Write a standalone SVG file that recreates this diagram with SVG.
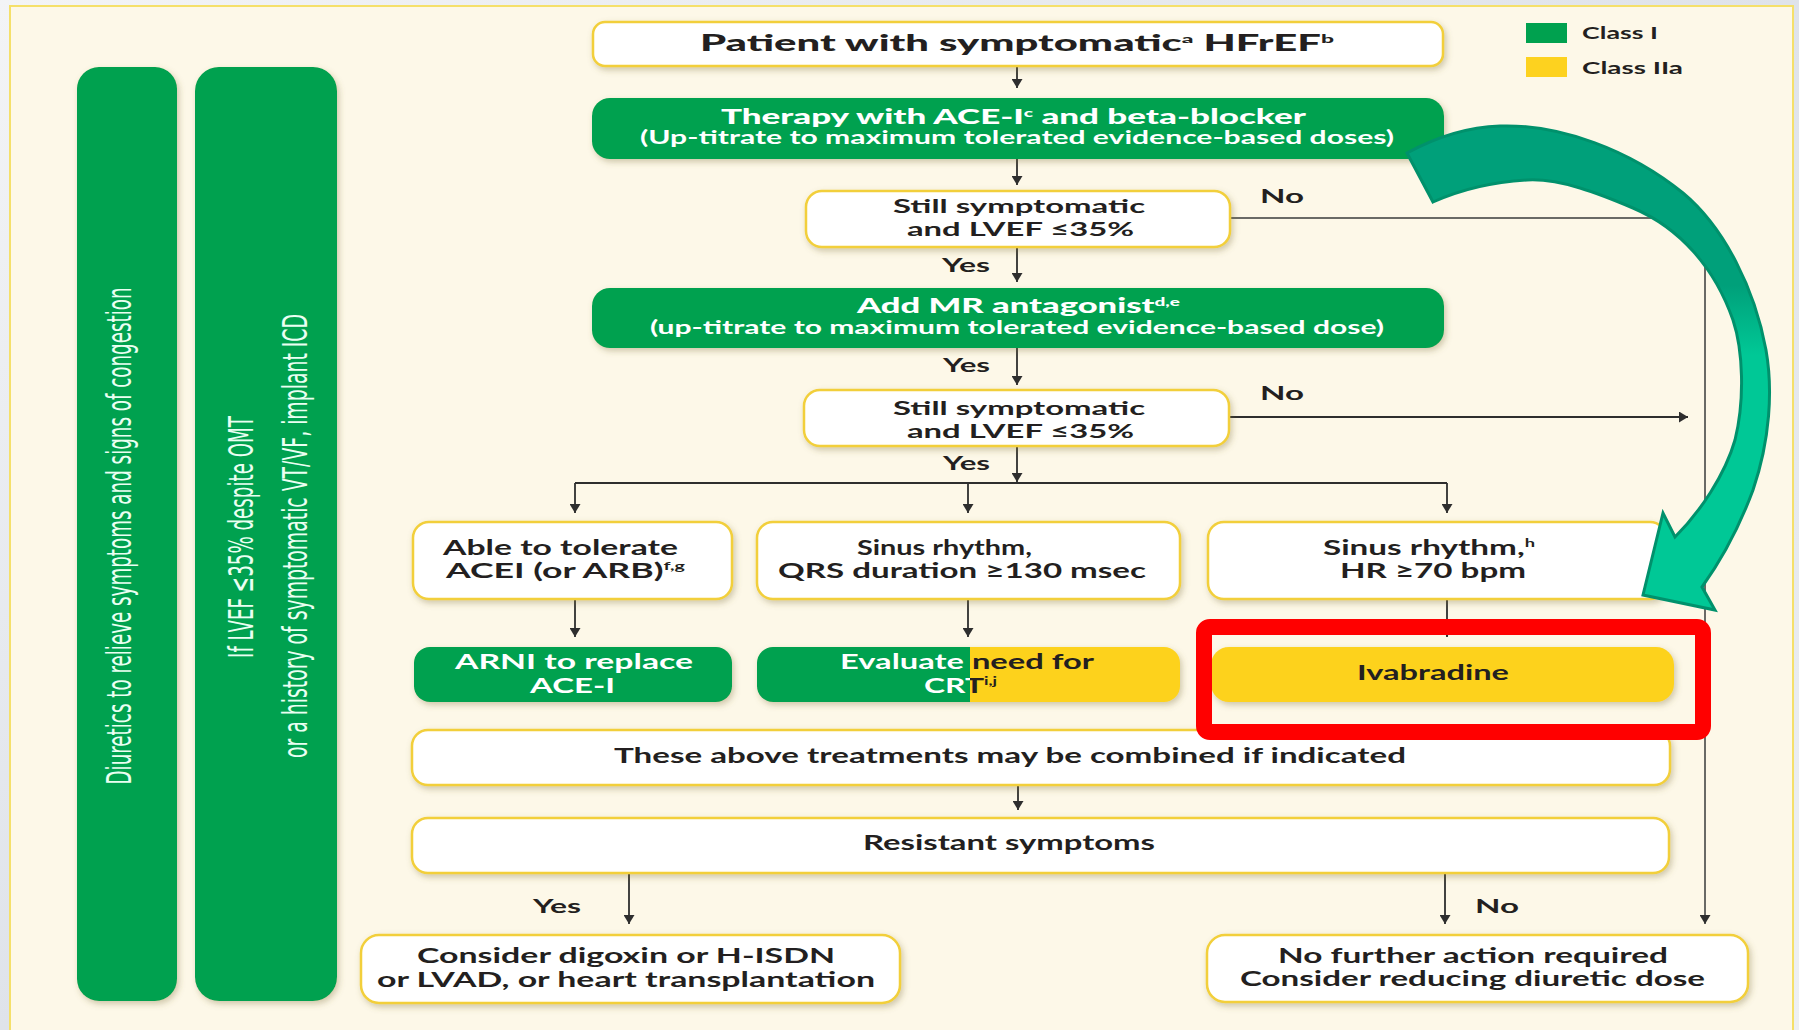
<svg xmlns="http://www.w3.org/2000/svg" width="1799" height="1030" viewBox="0 0 1799 1030">
<defs>
<style>
.t{font-family:Lato,"Liberation Sans",sans-serif;font-weight:700;fill:#231f20;}
.tb{font-family:Lato,"Liberation Sans",sans-serif;font-weight:900;fill:#231f20;}
.w{fill:#ffffff;}
.wb{fill:#ffffff;stroke:#f2cf3a;stroke-width:2.5;}
.g{fill:#00a14f;}
.y{fill:#fdd21f;}
.bar{fill:#00a14f;}
.bt{font-family:"Liberation Sans Narrow","DejaVu Sans Condensed",sans-serif;fill:#eafff2;font-size:34px;}
.ln{stroke:#2e2e2e;stroke-width:1.8;fill:none;}
.lg{stroke:#6a6a66;stroke-width:2;fill:none;}
</style>
<marker id="ah" viewBox="0 0 9 11" markerWidth="9" markerHeight="11" refX="9" refY="5.5" orient="auto" markerUnits="userSpaceOnUse"><path d="M0,0 L9,5.5 L0,11 z" fill="#2e2e2e"/></marker>
<filter id="sh" x="-10%" y="-30%" width="120%" height="160%"><feDropShadow dx="2" dy="3" stdDeviation="3" flood-color="#7a6a30" flood-opacity="0.35"/></filter>
<linearGradient id="bg" x1="0" y1="0" x2="1" y2="1"><stop offset="0" stop-color="#f3f4f6"/><stop offset="0.5" stop-color="#dfe3ea"/><stop offset="1" stop-color="#eef0f3"/></linearGradient>
<linearGradient id="crtfill" gradientUnits="userSpaceOnUse" x1="757" y1="0" x2="1180" y2="0"><stop offset="0.5028" stop-color="#00a14f"/><stop offset="0.5028" stop-color="#fdd21f"/></linearGradient>
<linearGradient id="crttext" gradientUnits="userSpaceOnUse" x1="757" y1="0" x2="1180" y2="0"><stop offset="0.5028" stop-color="#ffffff"/><stop offset="0.5028" stop-color="#231f20"/></linearGradient>
<linearGradient id="teal" gradientUnits="userSpaceOnUse" x1="0" y1="150" x2="0" y2="560"><stop offset="0.33" stop-color="#00a07a"/><stop offset="0.5" stop-color="#00c896"/><stop offset="1" stop-color="#00c896"/></linearGradient>
</defs>
<rect x="0" y="0" width="1799" height="1030" fill="url(#bg)"/>
<rect x="10" y="6" width="1783" height="1030" fill="#fdf8e8" stroke="#f5e06a" stroke-width="2"/>

<g id="legend">
<rect x="1526" y="23" width="41" height="20" class="g"/>
<rect x="1526" y="57" width="41" height="20" class="y"/>
<text class="t" x="1582" y="39" font-size="17" textLength="76" lengthAdjust="spacingAndGlyphs">Class I</text>
<text class="t" x="1582" y="74" font-size="17" textLength="101" lengthAdjust="spacingAndGlyphs">Class IIa</text>
</g>

<g id="bar-diuretics">
<rect x="77" y="67" width="100" height="934" rx="22" class="bar" filter="url(#sh)"/>
<text class="bt" transform="translate(131,536) rotate(-90)" text-anchor="middle" textLength="497" lengthAdjust="spacingAndGlyphs">Diuretics to relieve symptoms and signs of congestion</text>
</g>
<g id="bar-icd">
<rect x="195" y="67" width="142" height="934" rx="24" class="bar" filter="url(#sh)"/>
<text class="bt" transform="translate(253,537) rotate(-90)" text-anchor="middle" textLength="242" lengthAdjust="spacingAndGlyphs">If LVEF ≤35% despite OMT</text>
<text class="bt" transform="translate(307,536) rotate(-90)" text-anchor="middle" textLength="444" lengthAdjust="spacingAndGlyphs">or a history of symptomatic VT/VF, implant ICD</text>
</g>

<g id="connectors">
<path class="ln" d="M1017,66 V88" marker-end="url(#ah)"/>
<path class="ln" d="M1017,159 V185" marker-end="url(#ah)"/>
<path class="ln" d="M1017,247 V282" marker-end="url(#ah)"/>
<path class="ln" d="M1017,348 V385" marker-end="url(#ah)"/>
<path class="ln" d="M1017,446 V482" marker-end="url(#ah)"/>
<path class="ln" d="M575,483 H1447"/>
<path class="ln" d="M575,483 V513" marker-end="url(#ah)"/>
<path class="ln" d="M968,483 V513" marker-end="url(#ah)"/>
<path class="ln" d="M1447,483 V513" marker-end="url(#ah)"/>
<path class="ln" d="M575,599 V637" marker-end="url(#ah)"/>
<path class="ln" d="M968,599 V637" marker-end="url(#ah)"/>
<path class="ln" d="M1447,599 V637" marker-end="url(#ah)"/>
<path class="ln" d="M1018,785 V810" marker-end="url(#ah)"/>
<path class="ln" d="M629,873 V924" marker-end="url(#ah)"/>
<path class="ln" d="M1445,873 V924" marker-end="url(#ah)"/>
<path class="lg" d="M1230,218 H1705"/>
<path class="lg" d="M1705,217 V924" marker-end="url(#ah)"/>
<path class="ln" d="M1229,417 H1688" marker-end="url(#ah)"/>
<text class="t" x="1260" y="203" font-size="19" textLength="44" lengthAdjust="spacingAndGlyphs">No</text>
<text class="t" x="942" y="272" font-size="19" textLength="48" lengthAdjust="spacingAndGlyphs">Yes</text>
<text class="t" x="943" y="372" font-size="19" textLength="47" lengthAdjust="spacingAndGlyphs">Yes</text>
<text class="t" x="1260" y="400" font-size="19" textLength="44" lengthAdjust="spacingAndGlyphs">No</text>
<text class="t" x="943" y="470" font-size="19" textLength="47" lengthAdjust="spacingAndGlyphs">Yes</text>
<text class="t" x="533" y="913" font-size="19" textLength="48" lengthAdjust="spacingAndGlyphs">Yes</text>
<text class="t" x="1475" y="913" font-size="19" textLength="44" lengthAdjust="spacingAndGlyphs">No</text>
</g>

<g id="n-patient">
<rect x="593" y="22" width="850" height="44" rx="12" class="wb" filter="url(#sh)"/>
<text class="tb" x="700" y="51" font-size="22" textLength="634" lengthAdjust="spacingAndGlyphs">Patient with symptomatic<tspan font-size="12" dy="-8">a</tspan><tspan dy="8"> HFrEF</tspan><tspan font-size="12" dy="-8">b</tspan></text>
</g>
<g id="n-therapy">
<rect x="592" y="98" width="852" height="61" rx="18" class="g" filter="url(#sh)"/>
<text class="tb" x="721" y="124" font-size="20" style="fill:#fff" textLength="585" lengthAdjust="spacingAndGlyphs">Therapy with ACE-I<tspan font-size="11" dy="-7">c</tspan><tspan dy="7"> and beta-blocker</tspan></text>
<text class="t" x="640" y="144" font-size="18" style="fill:#fff" textLength="754" lengthAdjust="spacingAndGlyphs">(Up-titrate to maximum tolerated evidence-based doses)</text>
</g>
<g id="n-still1">
<rect x="806" y="191" width="424" height="56" rx="16" class="wb" filter="url(#sh)"/>
<text class="t" x="893" y="213" font-size="19" textLength="252" lengthAdjust="spacingAndGlyphs">Still symptomatic</text>
<text class="t" x="907" y="236" font-size="19" textLength="227" lengthAdjust="spacingAndGlyphs">and LVEF ≤35%</text>
</g>
<g id="n-mra">
<rect x="592" y="288" width="852" height="60" rx="18" class="g" filter="url(#sh)"/>
<text class="tb" x="857" y="313" font-size="20" style="fill:#fff" textLength="323" lengthAdjust="spacingAndGlyphs">Add MR antagonist<tspan font-size="11" dy="-7">d,e</tspan></text>
<text class="t" x="650" y="334" font-size="18" style="fill:#fff" textLength="734" lengthAdjust="spacingAndGlyphs">(up-titrate to maximum tolerated evidence-based dose)</text>
</g>
<g id="n-still2">
<rect x="804" y="390" width="425" height="56" rx="16" class="wb" filter="url(#sh)"/>
<text class="t" x="893" y="415" font-size="19" textLength="252" lengthAdjust="spacingAndGlyphs">Still symptomatic</text>
<text class="t" x="907" y="438" font-size="19" textLength="227" lengthAdjust="spacingAndGlyphs">and LVEF ≤35%</text>
</g>
<g id="n-acei">
<rect x="413" y="522" width="319" height="77" rx="16" class="wb" filter="url(#sh)"/>
<text class="t" x="443" y="555" font-size="20" textLength="235" lengthAdjust="spacingAndGlyphs">Able to tolerate</text>
<text class="t" x="446" y="578" font-size="20" textLength="239" lengthAdjust="spacingAndGlyphs">ACEI (or ARB)<tspan font-size="11" dy="-8">f,g</tspan></text>
</g>
<g id="n-qrs">
<rect x="757" y="522" width="423" height="77" rx="16" class="wb" filter="url(#sh)"/>
<text class="t" x="857" y="555" font-size="20" textLength="175" lengthAdjust="spacingAndGlyphs">Sinus rhythm,</text>
<text class="t" x="778" y="578" font-size="20" textLength="368" lengthAdjust="spacingAndGlyphs">QRS duration ≥130 msec</text>
</g>
<g id="n-hr">
<rect x="1208" y="522" width="458" height="77" rx="16" class="wb" filter="url(#sh)"/>
<text class="t" x="1323" y="555" font-size="20" textLength="212" lengthAdjust="spacingAndGlyphs">Sinus rhythm,<tspan font-size="11" dy="-8">h</tspan></text>
<text class="t" x="1340" y="578" font-size="20" textLength="186" lengthAdjust="spacingAndGlyphs">HR ≥70 bpm</text>
</g>
<g id="n-arni">
<rect x="414" y="647" width="318" height="55" rx="16" class="g" filter="url(#sh)"/>
<text class="t" x="455" y="669" font-size="20" style="fill:#fff" textLength="238" lengthAdjust="spacingAndGlyphs">ARNI to replace</text>
<text class="t" x="530" y="693" font-size="20" style="fill:#fff" textLength="85" lengthAdjust="spacingAndGlyphs">ACE-I</text>
</g>
<g id="n-crt">
<rect x="757" y="647" width="423" height="55" rx="16" fill="url(#crtfill)" filter="url(#sh)"/>
<text class="t" x="840" y="669" font-size="20" style="fill:url(#crttext)" textLength="254" lengthAdjust="spacingAndGlyphs">Evaluate need for</text>
<text class="t" x="924" y="693" font-size="20" style="fill:url(#crttext)" textLength="73" lengthAdjust="spacingAndGlyphs">CRT<tspan font-size="11" dy="-8">i,j</tspan></text>
</g>
<g id="n-ivabradine">
<rect x="1211" y="647" width="463" height="55" rx="18" class="y" filter="url(#sh)"/>
<text class="t" x="1357" y="680" font-size="21" textLength="152" lengthAdjust="spacingAndGlyphs">Ivabradine</text>
</g>
<g id="n-combined">
<rect x="412" y="730" width="1258" height="55" rx="16" class="wb" filter="url(#sh)"/>
<text class="t" x="614" y="763" font-size="20" textLength="792" lengthAdjust="spacingAndGlyphs">These above treatments may be combined if indicated</text>
</g>
<g id="n-resistant">
<rect x="412" y="818" width="1257" height="55" rx="16" class="wb" filter="url(#sh)"/>
<text class="t" x="863" y="850" font-size="20" textLength="292" lengthAdjust="spacingAndGlyphs">Resistant symptoms</text>
</g>
<g id="n-digoxin">
<rect x="361" y="935" width="539" height="68" rx="18" class="wb" filter="url(#sh)"/>
<text class="t" x="417" y="963" font-size="21" textLength="418" lengthAdjust="spacingAndGlyphs">Consider digoxin or H-ISDN</text>
<text class="t" x="377" y="987" font-size="21" textLength="498" lengthAdjust="spacingAndGlyphs">or LVAD, or heart transplantation</text>
</g>
<g id="n-nofurther">
<rect x="1207" y="935" width="541" height="67" rx="18" class="wb" filter="url(#sh)"/>
<text class="t" x="1278" y="963" font-size="21" textLength="390" lengthAdjust="spacingAndGlyphs">No further action required</text>
<text class="t" x="1240" y="986" font-size="21" textLength="465" lengthAdjust="spacingAndGlyphs">Consider reducing diuretic dose</text>
</g>

<g id="highlight-frame">
<rect x="1204" y="627" width="499" height="105" rx="6" fill="none" stroke="#ff0000" stroke-width="16"/>
</g>
<g id="curved-arrow">
<path d="M1407,153 C1440,135 1470,127 1500,126 C1560,124 1630,150 1683,193 C1725,228 1755,290 1766,350 C1773,390 1770,440 1753,490 C1743,517 1725,555 1702,587 L1715,610 L1643,595 L1663,513 L1675,537 C1700,512 1725,475 1735,440 C1745,400 1743,350 1733,320 C1715,268 1680,228 1633,208 C1600,194 1560,178 1527,180 C1490,182 1460,190 1433,202 Z" fill="url(#teal)" stroke="#00916c" stroke-width="3" stroke-linejoin="miter"/>
</g>
</svg>
